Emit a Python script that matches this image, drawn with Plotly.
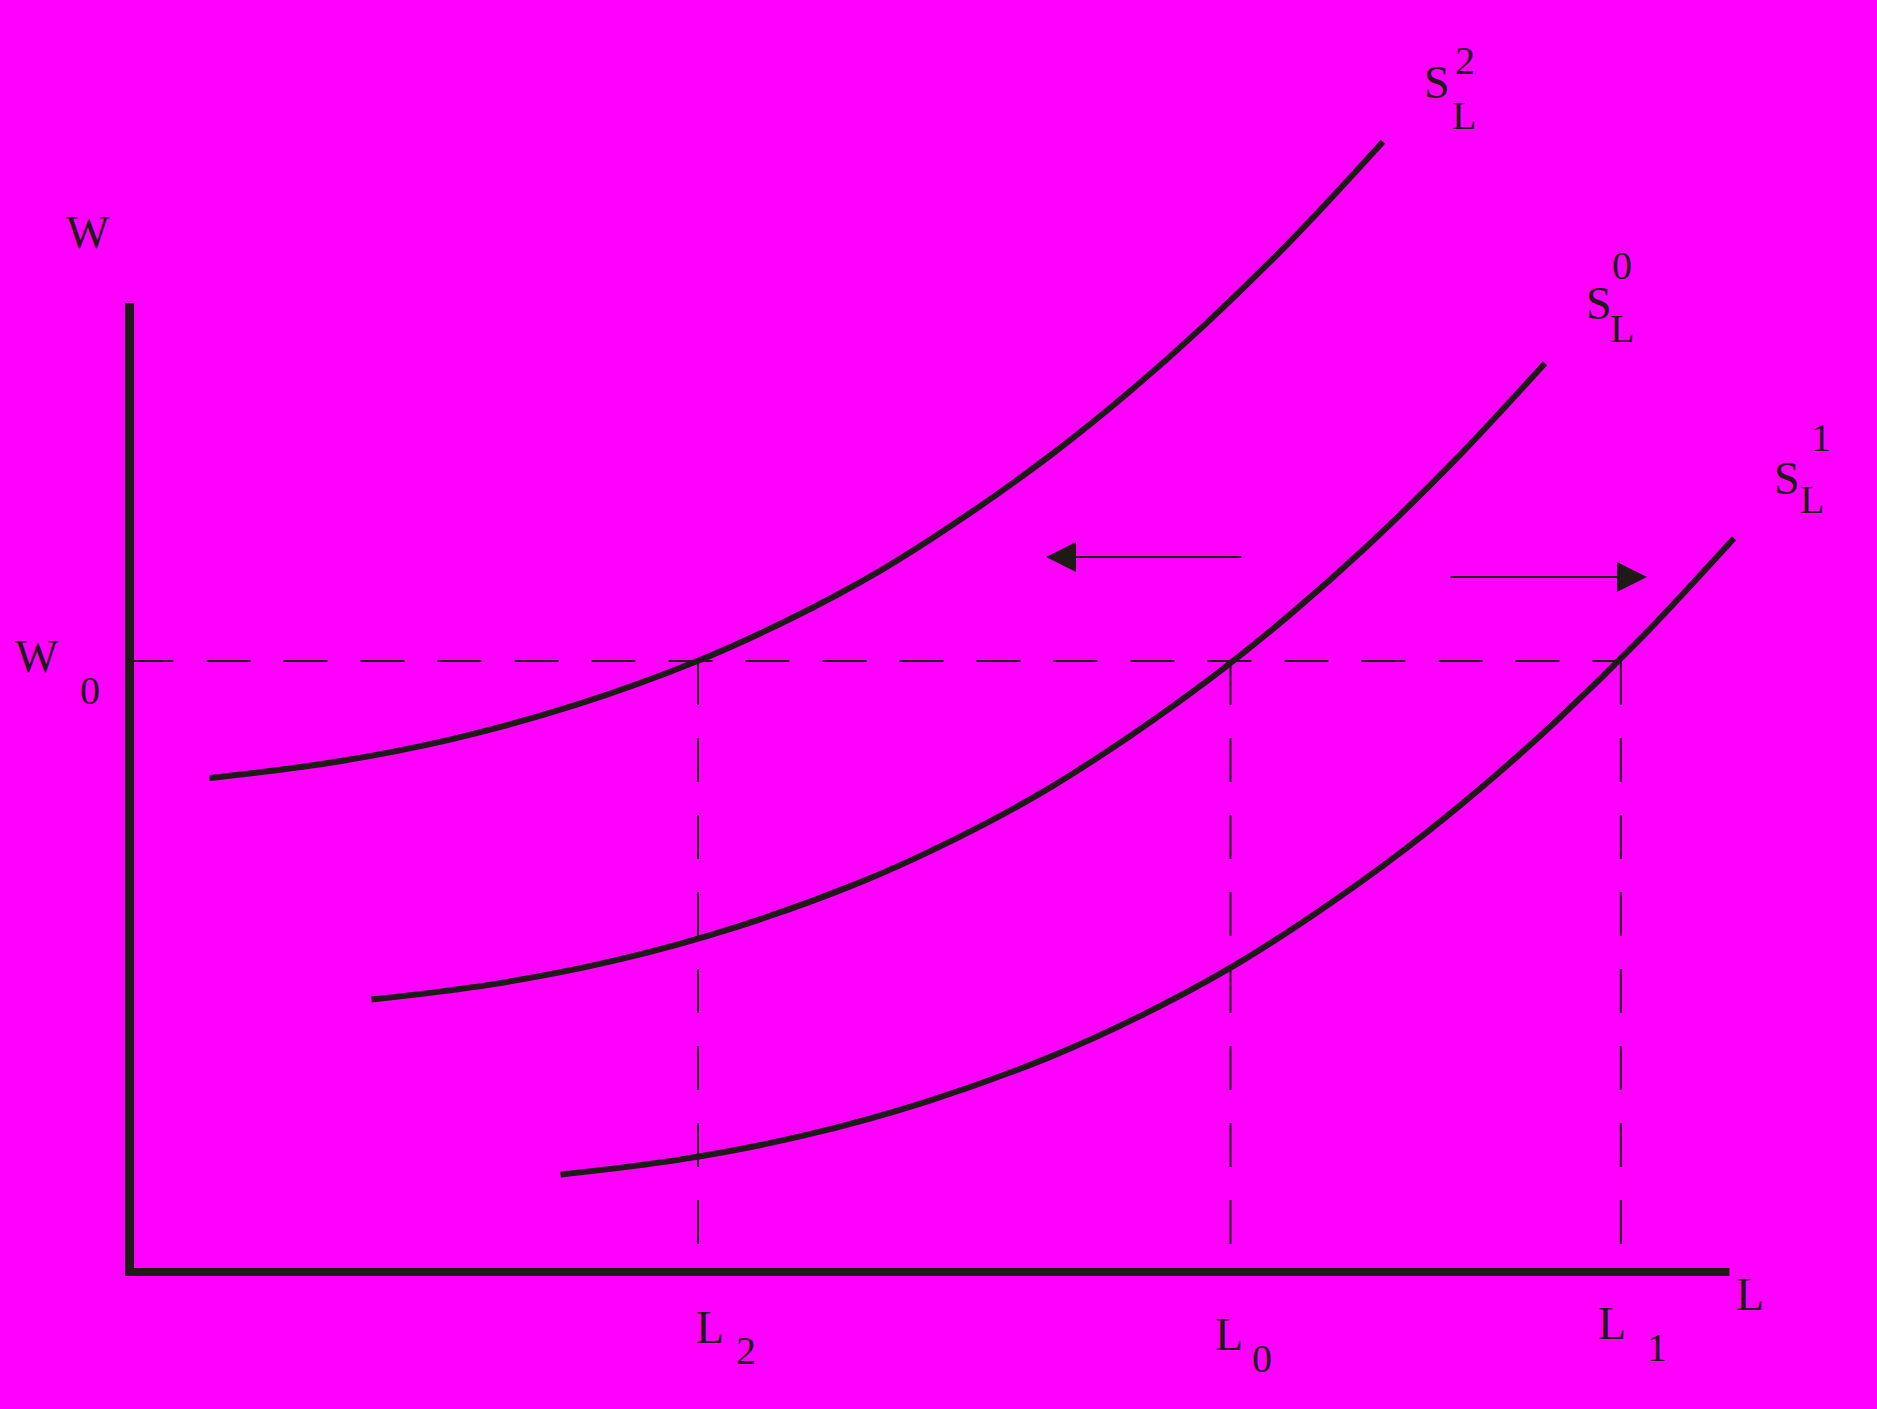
import plotly.graph_objects as go

# ---- data (economic units; origin at the axes corner) ----
# Labour supply curves S_L^2 (top), S_L^0 (middle), S_L^1 (bottom): L (quantity), W (wage)
s2_L = [8.00, 20.05, 32.05, 44.55, 56.85, 65.95, 75.05, 83.72, 92.40, 100.05, 107.55, 116.05, 125.35]
s2_W = [49.40, 50.92, 53.24, 56.68, 61.12, 65.25, 70.12, 75.67, 81.90, 88.07, 94.74, 103.04, 113.03]

s0_L = [24.20, 36.25, 48.25, 60.75, 73.05, 82.15, 91.25, 99.92, 108.60, 116.25, 123.75, 132.25, 141.55]
s0_W = [27.24, 28.76, 31.08, 34.52, 38.96, 43.09, 47.96, 53.51, 59.74, 65.91, 72.58, 80.88, 90.87]

s1_L = [43.10, 55.15, 67.15, 79.65, 91.95, 101.05, 110.15, 118.82, 127.50, 135.15, 142.65, 151.15, 160.45]
s1_W = [9.74, 11.26, 13.58, 17.02, 21.46, 25.59, 30.46, 36.01, 42.24, 48.41, 55.08, 63.38, 73.37]

W0 = 61.1
L_marks = {"L2": 56.85, "L0": 110.1, "L1": 149.13}
axis_x_max = 160.0
axis_y_max = 96.9

# shift arrows: (tail L, head L, W)
arrow_left = (111.35, 91.65, 71.5)
arrow_right = (131.95, 151.75, 69.5)

BG = "#FF00FF"
INK = "#1e1a18"
FONT = "Liberation Serif"
DASH = "44px,33px"

fig = go.Figure()

# dashed guide lines
fig.add_trace(go.Scatter(x=[0, L_marks["L1"]], y=[W0, W0], mode="lines",
                         line=dict(color=INK, width=2, dash=DASH),
                         hoverinfo="skip", showlegend=False))
for k in ["L2", "L0", "L1"]:
    fig.add_trace(go.Scatter(x=[L_marks[k], L_marks[k]], y=[W0, 0], mode="lines",
                             line=dict(color=INK, width=2, dash=DASH),
                             hoverinfo="skip", showlegend=False))

# supply curves
for xs, ys in [(s2_L, s2_W), (s0_L, s0_W), (s1_L, s1_W)]:
    fig.add_trace(go.Scatter(x=xs, y=ys, mode="lines",
                             line=dict(color=INK, width=6, shape="spline", smoothing=1.0),
                             hoverinfo="skip", showlegend=False))

# axes
fig.add_trace(go.Scatter(x=[0, 0], y=[axis_y_max, -0.4], mode="lines",
                         line=dict(color=INK, width=9), hoverinfo="skip", showlegend=False))
fig.add_trace(go.Scatter(x=[-0.45, axis_x_max], y=[0, 0], mode="lines",
                         line=dict(color=INK, width=8), hoverinfo="skip", showlegend=False))

# arrows
for tail, head, w in [arrow_left, arrow_right]:
    fig.add_annotation(x=head, y=w, ax=tail, ay=w, xref="x", yref="y", axref="x", ayref="y",
                       showarrow=True, arrowhead=2, arrowsize=3.0, arrowwidth=2,
                       arrowcolor=INK, text="")

# labels
CAP, DIG = 46, 40
labels = [
    ("W", -4.15, 104.0, CAP),
    ("W", -9.25, 61.6, CAP), ("0", -3.95, 58.2, DIG),
    ("L", 58.0, -5.5, CAP), ("2", 61.65, -7.8, DIG),
    ("L", 109.95, -6.2, CAP), ("0", 113.25, -8.6, DIG),
    ("L", 148.25, -5.1, CAP), ("1", 152.75, -7.5, DIG),
    ("L", 162.05, -2.2, CAP),
    ("S", 130.75, 119.0, CAP), ("2", 133.55, 121.2, DIG), ("L", 133.45, 115.7, 40),
    ("S", 146.95, 96.9, CAP), ("0", 149.25, 100.7, DIG), ("L", 149.25, 94.4, 40),
    ("S", 165.75, 79.4, CAP), ("1", 169.15, 83.5, DIG), ("L", 168.25, 77.3, 40),
]
for t, x, y, sz in labels:
    fig.add_annotation(x=x, y=y, xref="x", yref="y", text=t, showarrow=False,
                       font=dict(family=FONT, size=sz, color=INK),
                       xanchor="center", yanchor="middle")

fig.update_layout(
    width=1877, height=1409, autosize=False,
    margin=dict(l=0, r=0, t=0, b=0, pad=0),
    paper_bgcolor=BG, plot_bgcolor=BG,
    xaxis=dict(range=[-12.95, 174.75], visible=False, fixedrange=True),
    yaxis=dict(range=[-13.7, 127.2], visible=False, fixedrange=True),
    showlegend=False,
)

fig.write_html(
    "out.html",
    config={"displayModeBar": False},
    post_script="document.body.style.margin='0';document.body.style.padding='0';"
                "document.body.style.background='#FF00FF';",
)
